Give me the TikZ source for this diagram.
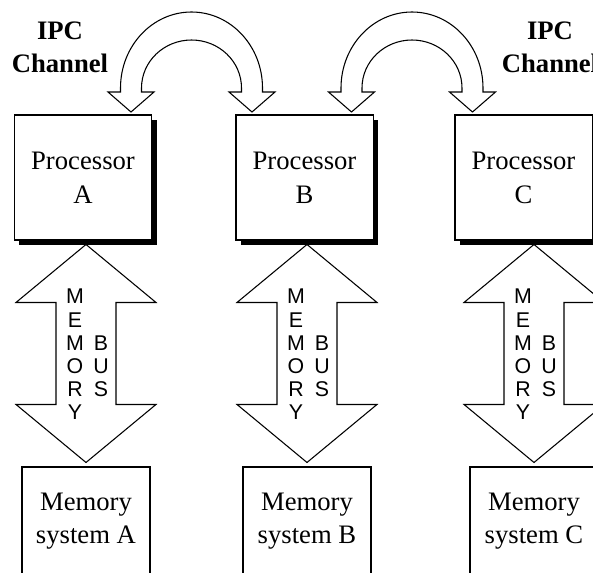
\documentclass[tikz,border=0pt]{standalone}
\usepackage{fontspec}
\setmainfont{Liberation Serif}
\setsansfont{Liberation Sans}
\usepackage{tikz}
\usetikzlibrary{arrows.meta,
                positioning,
                shadows,
                calc}

\tikzset{
    procbox/.style={draw, line width=1pt, fill=white, inner sep=0pt,
        minimum width=103pt, minimum height=93.75pt, align=center,
        font=\fontsize{20}{25.5}\selectfont,
        drop shadow={shadow xshift=3.75pt, shadow yshift=-3.75pt, fill=black, opacity=1}},
    membox/.style={draw, line width=0.8pt, fill=white, inner sep=0pt,
        minimum width=96pt, minimum height=81pt, align=center,
        font=\fontsize{20}{24.75}\selectfont},
    fatarrow/.style={draw, line width=0.8pt, fill=white, line join=miter},
    bustext/.style={align=center, inner sep=0pt, font=\sffamily\fontsize{16}{17.4}\selectfont},
    ipclabel/.style={align=center, inner sep=0pt, font=\bfseries\fontsize{20}{25}\selectfont}
}

\begin{document}
\begin{tikzpicture}[x=0.75pt, y=-0.75pt]
        \useasboundingbox (0,0) rectangle (593,572);
        \clip (0,0) rectangle (593,572);

        \node[ipclabel] (ipcL) at (60,47) {IPC\\Channel};
        \node[ipclabel] (ipcR) at (550,47) {IPC\\Channel};

        \node[membox] (memA) at (86,521) {Memory\\system A};
        \node[membox] (memB) at (307,521) {Memory\\system B};
        \node[membox] (memC) at (534,521) {Memory\\system C};

        \foreach \n in {A,B,C} {
            \coordinate (top\n) at ($(mem\n.north)+(0,-222)$);
            \draw[fatarrow] (top\n) -- ++(70,58) -- ++(-40,0) -- ++(0,102) -- ++(40,0)
                -- ++(-70,58) -- ++(-70,-58) -- ++(40,0) -- ++(0,-102) -- ++(-40,0) -- cycle;
            \node[bustext] (mword\n) at ($(top\n)+(-11,110)$) {M\\E\\M\\O\\R\\Y};
            \node[bustext] (bword\n) at ($(top\n)+(15,122)$) {B\\U\\S};
        }

        \node[procbox] (procA) at (83,177.5) {Processor\\A};
        \node[procbox] (procB) at (304.5,177.5) {Processor\\B};
        \node[procbox] (procC) at (523.5,177.5) {Processor\\C};

        \foreach \cx/\nm in {191.5/AB, 412/BC} {
            \coordinate (ipc\nm) at (\cx,88);
            \draw[fatarrow] (ipc\nm) ++(-71,4) -- ++(0,-4)
                arc[start angle=180, end angle=360, x radius=71, y radius=76]
                -- ++(0,4) -- ++(12.5,0) -- ++(-23,20) -- ++(-23,-20) -- ++(12.5,0) -- ++(0,-4)
                arc[start angle=360, end angle=180, x radius=50, y radius=48]
                -- ++(0,4) -- ++(12.5,0) -- ++(-23,20) -- ++(-23,-20) -- cycle;
        }
    \end{tikzpicture}
\end{document}
